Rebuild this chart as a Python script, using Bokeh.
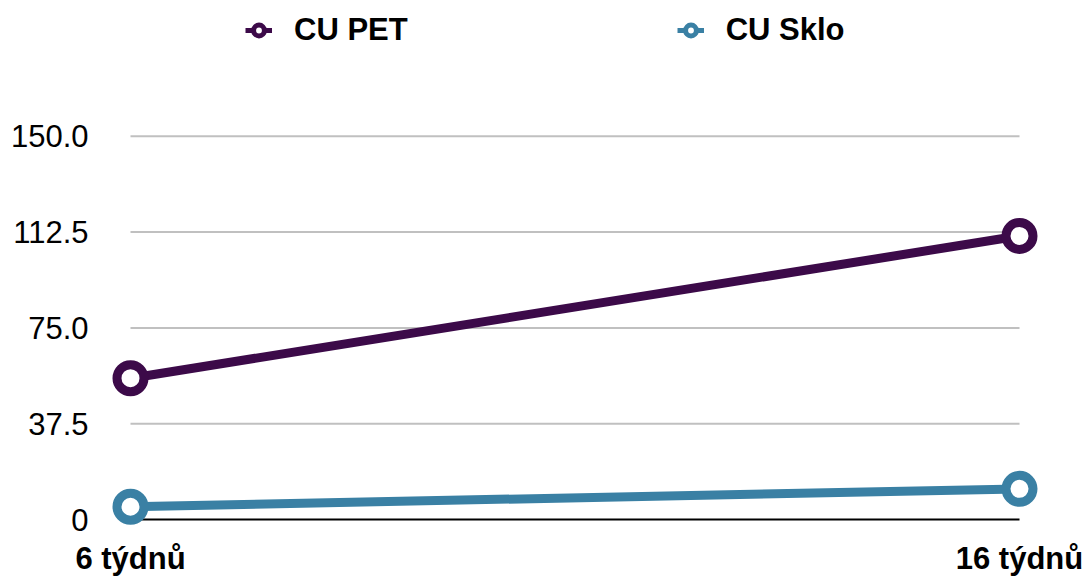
from bokeh.plotting import figure
from bokeh.models import (ColumnDataSource, FixedTicker, CustomJSTickFormatter,
                          Legend, LegendItem)
from bokeh.core.properties import value
from bokeh.embed import file_html
from bokeh.resources import INLINE

# --- data -----------------------------------------------------------------
weeks = ["6 týdnů", "16 týdnů"]
cu_pet = [55.3, 111.0]
cu_sklo = [5.0, 12.0]
y_ticks = [0, 37.5, 75.0, 112.5, 150.0]

PET_COLOR = "#3c0a49"
SKLO_COLOR = "#3a80a4"
FONT = "Liberation Sans"
FONT_SIZE = "31px"

x = list(range(len(weeks)))

p = figure(width=1087, height=578, output_backend="svg", toolbar_location=None,
           x_range=(-0.03375, 1.03487), y_range=(-5.08, 203.12),
           min_border_left=100, min_border_right=37, min_border_top=0,
           min_border_bottom=45)
p.outline_line_color = None
p.xgrid.visible = False
p.ygrid.visible = False
p.background_fill_color = "white"
p.border_fill_color = "white"

# y axis: labels only, at the fixed ticks
p.yaxis.ticker = FixedTicker(ticks=y_ticks)
p.yaxis.formatter = CustomJSTickFormatter(code="return tick == 0 ? '0' : tick.toFixed(1);")
p.yaxis.axis_line_color = None
p.yaxis.major_tick_line_color = None
p.yaxis.minor_tick_line_color = None
p.yaxis.major_tick_out = 0
p.yaxis.major_tick_in = 0
p.yaxis.major_label_standoff = 12
p.yaxis.major_label_text_font = FONT
p.yaxis.major_label_text_font_size = FONT_SIZE
p.yaxis.major_label_text_color = "black"

# x axis: category names under each point
p.xaxis.ticker = FixedTicker(ticks=x)
p.xaxis.formatter = CustomJSTickFormatter(args=dict(labels=weeks),
                                          code="return labels[Math.round(tick)];")
p.xaxis.axis_line_color = None
p.xaxis.major_tick_line_color = None
p.xaxis.minor_tick_line_color = None
p.xaxis.major_tick_out = 0
p.xaxis.major_tick_in = 0
p.xaxis.major_label_standoff = 8
p.xaxis.major_label_text_font = FONT
p.xaxis.major_label_text_font_size = FONT_SIZE
p.xaxis.major_label_text_font_style = "bold"
p.xaxis.major_label_text_color = "black"

# horizontal grid lines across the category span
grid_vals = [t for t in y_ticks if t != 0]
p.segment(x0=[x[0]] * len(grid_vals), x1=[x[-1]] * len(grid_vals),
          y0=grid_vals, y1=grid_vals, line_color="#c0c0c0", line_width=2)
# baseline
p.segment(x0=[x[0]], x1=[x[-1]], y0=[0], y1=[0], line_color="black", line_width=2)

# series, plus hidden thinner copies used only as legend swatches
items = []
for label, vals, color in (("CU PET", cu_pet, PET_COLOR), ("CU Sklo", cu_sklo, SKLO_COLOR)):
    src = ColumnDataSource(dict(x=x, y=vals))
    p.line("x", "y", source=src, line_color=color, line_width=9)
    p.scatter("x", "y", source=src, size=27, marker="circle",
              fill_color="white", line_color=color, line_width=9)
    rl = p.line("x", "y", source=src, line_color=color, line_width=5, visible=False)
    rs = p.scatter("x", "y", source=src, size=11, marker="circle",
                   fill_color="white", line_color=color, line_width=5, visible=False)
    items.append(LegendItem(label=value(label), renderers=[rl, rs]))

legend = Legend(items=items, location=(145, 484), orientation="horizontal",
                glyph_width=27, glyph_height=30, label_standoff=22, spacing=269,
                padding=0, margin=0, border_line_color=None,
                background_fill_alpha=0, inactive_fill_alpha=0,
                label_text_font=FONT, label_text_font_size=FONT_SIZE,
                label_text_font_style="bold", label_text_color="black")
p.add_layout(legend, "center")

open("out.html", "w").write(file_html(p, INLINE))
